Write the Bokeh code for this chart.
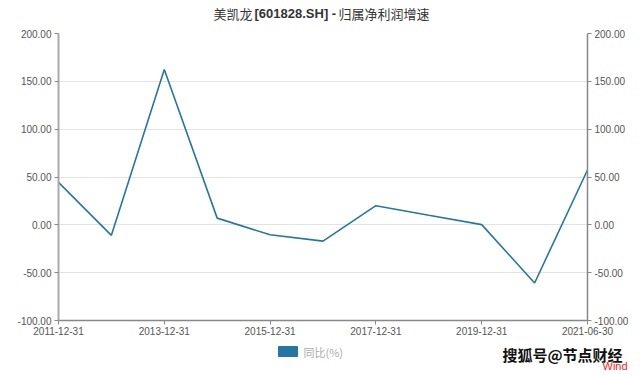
from bokeh.plotting import figure
from bokeh.layouts import column
from bokeh.models import (Range1d, LinearAxis, FixedTicker, NumeralTickFormatter,
                          Label, BoxAnnotation)
from bokeh.embed import file_html
from bokeh.resources import INLINE

dates = ["2011-12-31", "2012-12-31", "2013-12-31", "2014-12-31", "2015-12-31",
         "2016-12-31", "2017-12-31", "2018-12-31", "2019-12-31", "2020-12-31",
         "2021-06-30"]
yoy = [44.5, -11.0, 162.3, 7.0, -10.4, -17.0, 20.0, 10.0, 0.2, -60.8, 57.3]
y_ticks = [-100, -50, 0, 50, 100, 150, 200]
title_parts = ["美凯龙", "[601828.SH] -", "归属净利润增速"]
legend_label = "同比(%)"
watermark_text = "搜狐号@节点财经"
source_text = "Wind"

xs = list(range(len(dates)))
cjk_font = "Noto Sans CJK SC"
label_font = "Liberation Sans"
line_color = "#2477a3"


def strip(height):
    f = figure(width=640, height=height, output_backend="svg", toolbar_location=None,
               x_range=Range1d(0, 640), y_range=Range1d(0, height),
               x_axis_type=None, y_axis_type=None, min_border=0,
               outline_line_color=None, background_fill_color="white",
               border_fill_color="white")
    f.frame_align = False
    f.xgrid.visible = False
    f.ygrid.visible = False
    return f


# title strip
t = strip(27)
t.add_layout(Label(x=252, y=14, x_units="screen", y_units="screen", text=title_parts[0],
                   text_font=cjk_font, text_font_size="13px", text_color="#333333",
                   text_align="right", text_baseline="middle"))
t.add_layout(Label(x=254, y=14, x_units="screen", y_units="screen", text=title_parts[1],
                   text_font=label_font, text_font_size="13px", text_font_style="bold",
                   text_color="#333333", text_align="left", text_baseline="middle"))
t.add_layout(Label(x=338, y=14, x_units="screen", y_units="screen", text=title_parts[2],
                   text_font=cjk_font, text_font_size="13px", text_color="#333333",
                   text_align="left", text_baseline="middle"))

# main chart
p = figure(width=640, height=313, output_backend="svg", toolbar_location=None,
           x_range=Range1d(0, len(dates) - 1), y_range=Range1d(-100, 200),
           min_border_left=58, min_border_right=53, min_border_top=6,
           min_border_bottom=20, background_fill_color="white",
           border_fill_color="white", outline_line_color=None)

p.line(xs, yoy, line_color=line_color, line_width=1.6)

xa = p.xaxis[0]
xa.ticker = FixedTicker(ticks=xs[::2])
xa.major_label_overrides = {i: dates[i] for i in xs}
xa.minor_tick_line_color = None
xa.axis_line_color = "#888888"
xa.axis_line_width = 1.5
xa.major_tick_line_color = "#888888"
xa.major_tick_in = 0
xa.major_tick_out = 4
xa.major_label_text_font = label_font
xa.major_label_text_font_size = "10px"
xa.major_label_text_color = "#555555"
xa.major_label_standoff = 2

ya = p.yaxis[0]
ya.ticker = FixedTicker(ticks=y_ticks)
ya.formatter = NumeralTickFormatter(format="0.00")
ya.minor_tick_line_color = None
ya.axis_line_color = "#aaaaaa"
ya.axis_line_width = 2
ya.major_tick_line_color = "#888888"
ya.major_tick_in = 0
ya.major_tick_out = 4
ya.major_label_text_font = label_font
ya.major_label_text_font_size = "10px"
ya.major_label_text_color = "#555555"
ya.major_label_standoff = 3

ra = LinearAxis(ticker=FixedTicker(ticks=y_ticks), formatter=NumeralTickFormatter(format="0.00"))
ra.minor_tick_line_color = None
ra.axis_line_color = "#888888"
ra.axis_line_width = 1.5
ra.major_tick_line_color = "#888888"
ra.major_tick_in = 0
ra.major_tick_out = 4
ra.major_label_text_font = label_font
ra.major_label_text_font_size = "10px"
ra.major_label_text_color = "#555555"
ra.major_label_standoff = 3
p.add_layout(ra, "right")

p.xgrid.grid_line_color = None
p.ygrid.ticker = FixedTicker(ticks=y_ticks)
p.ygrid.grid_line_color = "#e3e3e3"
p.ygrid.grid_line_width = 1

# legend / watermark strip
s = strip(35)
swatch = BoxAnnotation(left=278, right=297, bottom=19, top=29,
                       left_units="screen", right_units="screen",
                       bottom_units="screen", top_units="screen",
                       fill_color=line_color, fill_alpha=1.0,
                       line_color=line_color, line_alpha=1.0)
s.add_layout(swatch)
s.add_layout(Label(x=303, y=24, x_units="screen", y_units="screen", text=legend_label,
                   text_font=cjk_font, text_font_size="11px",
                   text_color="#aaaaaa", text_baseline="middle"))
s.add_layout(Label(x=502, y=11, x_units="screen", y_units="screen", text=watermark_text,
                   text_font=cjk_font, text_font_size="15px", text_font_style="bold",
                   text_color="#111111"))
s.add_layout(Label(x=602, y=4, x_units="screen", y_units="screen", text=source_text,
                   text_font=label_font, text_font_size="11px", text_color="#ff1a1a"))

layout = column(t, p, s, spacing=0)
open("out.html", "w").write(file_html(layout, INLINE))
